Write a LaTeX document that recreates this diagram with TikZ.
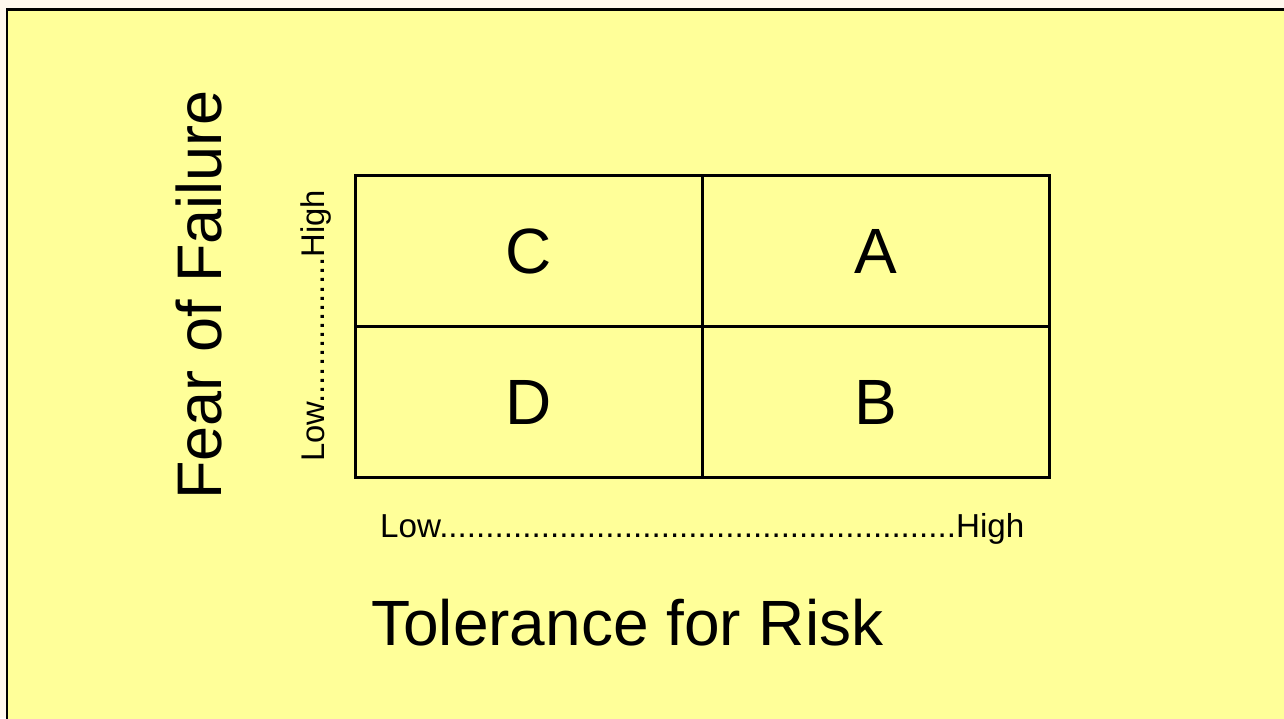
\documentclass[tikz,border=0pt]{standalone}
\usepackage{fontspec}
\setmainfont{Liberation Sans}
\definecolor{pagebg}{RGB}{255,248,238}
\definecolor{slidebg}{RGB}{255,255,153}
\begin{document}
\begin{tikzpicture}[x=1pt,y=-1pt,
  cell/.style={draw=black, line width=3pt, minimum width=347pt, minimum height=151pt,
    inner sep=0pt, font=\fontsize{64}{64}\selectfont, anchor=center},
  big/.style={font=\fontsize{64}{64}\selectfont, inner sep=0pt},
  small/.style={font=\fontsize{33.2}{33.2}\selectfont, inner sep=0pt}]
\useasboundingbox (0,0) rectangle (1284,718);
\clip (0,0) rectangle (1284,718);
\fill[pagebg] (0,0) rectangle (1284,718);
\draw[fill=slidebg, line width=2.5pt] (7,9.5) rectangle (1300,735);
\node[cell] (C) at (529,251) {C};
\node[cell] (A) at (876,251) {A};
\node[cell] (D) at (529,402) {D};
\node[cell] (B) at (876,402) {B};
\node[big, rotate=90, anchor=base west, font=\fontsize{63}{63}\selectfont] (fear) at (221,500) {Fear of Failure};
\node[small, rotate=90, anchor=base west, font=\fontsize{32.8}{32.8}\selectfont] (ylab) at (324,462) {Low................High};
\node[small, anchor=base west] (xlab) at (380,537) {Low........................................................High};
\node[big, anchor=base west] (tol) at (371,645) {Tolerance for Risk};
\end{tikzpicture}
\end{document}
